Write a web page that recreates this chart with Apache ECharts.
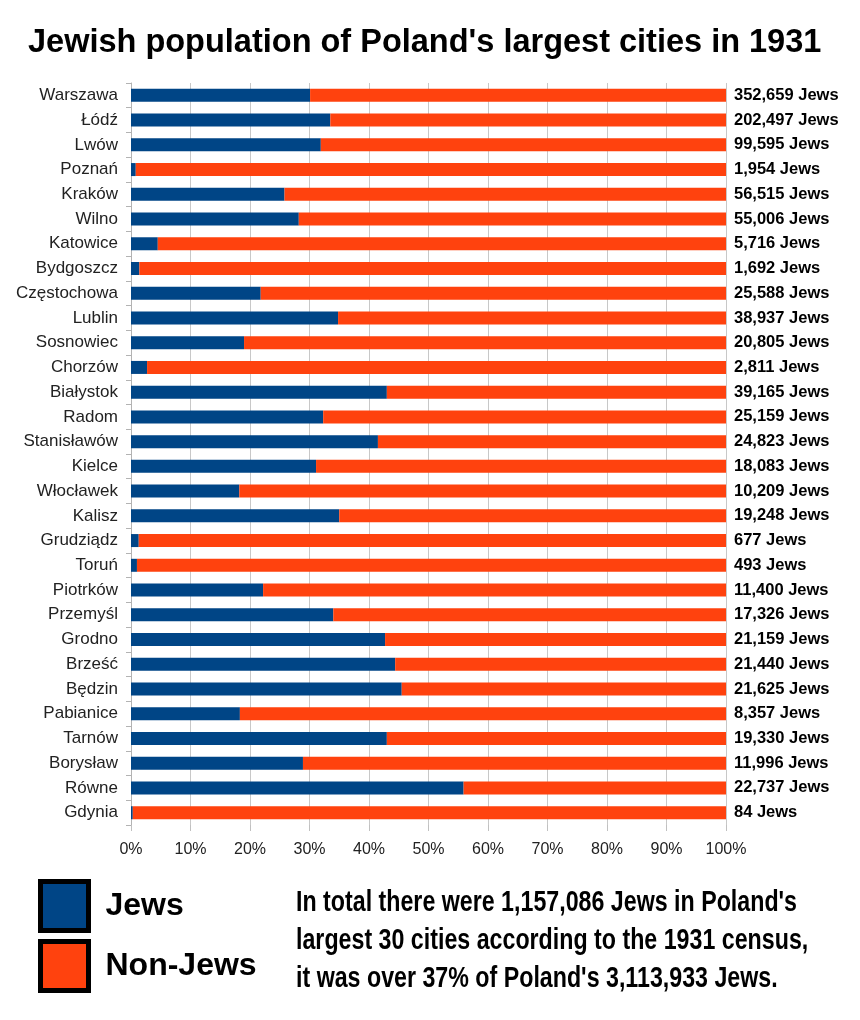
<!DOCTYPE html>
<html>
<head>
<meta charset="utf-8">
<script src="https://cdn.jsdelivr.net/npm/echarts@6/dist/echarts.min.js"></script>
<style>
  html, body { margin: 0; padding: 0; background: #fff; }
  #chart { width: 860px; height: 1020px; }
</style>
</head>
<body>
<div id="chart"></div>
<script>
// cities, top to bottom
var cities = ['Warszawa', 'Łódź', 'Lwów', 'Poznań', 'Kraków', 'Wilno', 'Katowice', 'Bydgoszcz',
    'Częstochowa', 'Lublin', 'Sosnowiec', 'Chorzów', 'Białystok', 'Radom', 'Stanisławów', 'Kielce',
    'Włocławek', 'Kalisz', 'Grudziądz', 'Toruń', 'Piotrków', 'Przemyśl', 'Grodno', 'Brześć',
    'Będzin', 'Pabianice', 'Tarnów', 'Borysław', 'Równe', 'Gdynia'];
// share of Jews (%)
var jewsPct = [30.1, 33.5, 31.9, 0.8, 25.8, 28.2, 4.5, 1.4, 21.8, 34.8, 19.0, 2.7, 43.0, 32.3, 41.5, 31.1,
    18.2, 35.0, 1.3, 1.0, 22.2, 34.0, 42.7, 44.4, 45.5, 18.3, 43.0, 28.9, 55.9, 0.3];
// share of non-Jews (%)
var nonJewsPct = [69.9, 66.5, 68.1, 99.2, 74.2, 71.8, 95.5, 98.6, 78.2, 65.2, 81.0, 97.3, 57.0, 67.7, 58.5, 68.9,
    81.8, 65.0, 98.7, 99.0, 77.8, 66.0, 57.3, 55.6, 54.5, 81.7, 57.0, 71.1, 44.1, 99.7];
// number of Jews, right-hand labels
var jewsCount = ['352,659', '202,497', '99,595', '1,954', '56,515', '55,006', '5,716', '1,692',
    '25,588', '38,937', '20,805', '2,811', '39,165', '25,159', '24,823', '18,083',
    '10,209', '19,248', '677', '493', '11,400', '17,326', '21,159', '21,440',
    '21,625', '8,357', '19,330', '11,996', '22,737', '84'];
var noteLines = [
    "In total there were 1,157,086 Jews in Poland's",
    "largest 30 cities according to the 1931 census,",
    "it was over 37% of Poland's 3,113,933 Jews."
];

// the note uses a condensed face in the original; squeeze a normal one to the same width
var noteFont = 'bold 30px "Liberation Sans"';
var ctx = document.createElement('canvas').getContext('2d');
ctx.font = noteFont;
var noteScale = 501 / ctx.measureText(noteLines[0]).width;
var noteY = [902.5, 940.5, 979];

var myChart = echarts.init(document.getElementById('chart'));

var option = {
    backgroundColor: '#fff',
    animation: false,
    title: {
        text: "Jewish population of Poland's largest cities in 1931",
        left: 23,
        top: 22,
        textStyle: {
            fontFamily: 'Liberation Sans, Arial, sans-serif',
            fontSize: 32.5,
            fontWeight: 'bold',
            color: '#000'
        }
    },
    legend: {
        orient: 'vertical',
        left: 33,
        top: 874,
        itemWidth: 48,
        itemHeight: 49,
        itemGap: 6,
        icon: 'rect',
        selectedMode: false,
        itemStyle: { borderColor: '#000', borderWidth: 5 },
        textStyle: {
            fontFamily: 'Liberation Sans, Arial, sans-serif',
            fontSize: 32,
            fontWeight: 'bold',
            color: '#000',
            padding: [0, 0, 0, 12]
        },
        data: ['Jews', 'Non-Jews']
    },
    grid: {
        left: 131,
        right: 134,
        top: 83,
        bottom: 195
    },
    xAxis: {
        type: 'value',
        min: 0,
        max: 100,
        interval: 10,
        axisLine: { show: false },
        axisTick: { show: true, length: 6, lineStyle: { color: '#c0c0c0' } },
        splitLine: { lineStyle: { color: '#c8c8c8', width: 1 } },
        axisLabel: {
            formatter: '{value}%',
            fontFamily: 'Liberation Sans, Arial, sans-serif',
            fontSize: 16,
            color: '#222',
            margin: 17
        }
    },
    yAxis: {
        type: 'category',
        inverse: true,
        data: cities,
        axisLine: { show: true, lineStyle: { color: '#b3b3b3' } },
        axisTick: { show: true, length: 5, lineStyle: { color: '#b3b3b3' } },
        axisLabel: {
            fontFamily: 'Liberation Sans, Arial, sans-serif',
            fontSize: 17,
            color: '#222',
            margin: 13
        }
    },
    series: [
        {
            name: 'Jews',
            type: 'bar',
            stack: 'total',
            barWidth: 13,
            itemStyle: { color: '#004586' },
            data: jewsPct
        },
        {
            name: 'Non-Jews',
            type: 'bar',
            stack: 'total',
            barWidth: 13,
            itemStyle: { color: '#ff420e' },
            label: {
                show: true,
                position: 'right',
                distance: 8,
                fontFamily: 'Liberation Sans, Arial, sans-serif',
                fontSize: 16.5,
                fontWeight: 'bold',
                color: '#000',
                formatter: function (p) {
                    return jewsCount[p.dataIndex] + ' Jews';
                }
            },
            data: nonJewsPct
        }
    ],
    graphic: noteLines.map(function (line, i) {
        return {
            type: 'text',
            x: 296,
            y: noteY[i],
            scaleX: noteScale,
            style: {
                text: line,
                font: noteFont,
                fill: '#000',
                textAlign: 'left',
                textVerticalAlign: 'middle'
            }
        };
    })
};

myChart.setOption(option, true);
</script>
</body>
</html>
